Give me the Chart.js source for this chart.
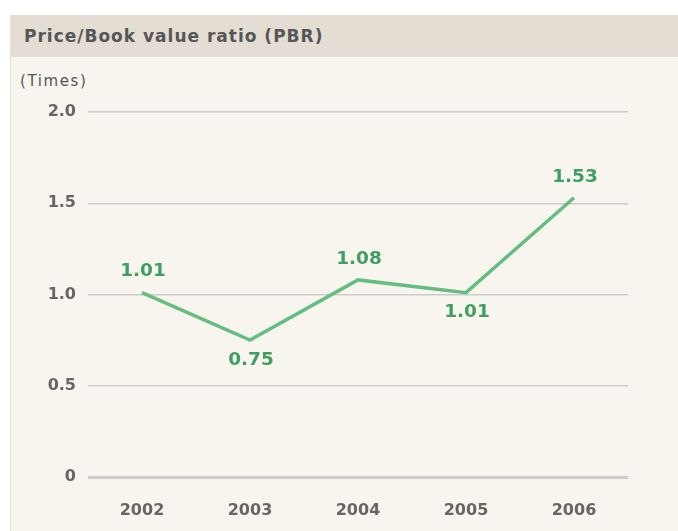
<!DOCTYPE html>
<html>
<head>
<meta charset="utf-8">
<script src="https://cdn.jsdelivr.net/npm/chart.js@4/dist/chart.umd.min.js"></script>
<style>
  html, body { margin: 0; padding: 0; background: #ffffff; }
  body { width: 678px; height: 531px; position: relative; overflow: hidden; font-family: "DejaVu Sans", sans-serif; }
  .panel { position: absolute; left: 10px; top: 15px; width: 668px; height: 516px; background: #f8f5ef; border-left: 1px solid #e6e0d6; }
  .header { height: 42px; background: #e3ddd3; color: #565656; font-weight: bold; font-size: 17px; letter-spacing: 1px; line-height: 43px; padding-left: 13px; }
  .unit { position: absolute; left: 20px; top: 72px; font-size: 15px; color: #555; letter-spacing: 1.6px; }
  .chart-box { position: absolute; left: 10px; top: 57px; width: 668px; height: 474px; }
</style>
</head>
<body>
<div class="panel"><div class="header">Price/Book value ratio (PBR)</div></div>
<div class="unit">(Times)</div>
<div class="chart-box"><canvas id="pbr" width="668" height="474"></canvas></div>
<script>
const years = ["2002", "2003", "2004", "2005", "2006"];
const pbrValues = [1.01, 0.75, 1.08, 1.01, 1.53];
const yTicks = [0, 0.5, 1.0, 1.5, 2.0];
const labelSide = ["top", "bottom", "top", "bottom", "top"];

const lineGreen = "#65bd82";
const textGreen = "#3f9f62";

// draws the value next to each point, above or below
const valueLabels = {
  id: "valueLabels",
  afterDatasetsDraw(chart) {
    const { ctx } = chart;
    const meta = chart.getDatasetMeta(0);
    ctx.save();
    ctx.font = "bold 18.5px 'DejaVu Sans'";
    ctx.fillStyle = textGreen;
    ctx.textAlign = "center";
    ctx.textBaseline = "middle";
    meta.data.forEach((pt, i) => {
      const dy = labelSide[i] === "top" ? -21 : 20;
      ctx.fillText(pbrValues[i].toFixed(2), pt.x + 1, pt.y + dy);
    });
    ctx.restore();
  },
};

new Chart(document.getElementById("pbr"), {
  type: "line",
  data: {
    labels: years,
    datasets: [{
      data: pbrValues,
      borderColor: lineGreen,
      borderWidth: 3.5,
      pointRadius: 0,
      tension: 0,
      fill: false,
    }],
  },
  options: {
    responsive: false,
    animation: false,
    events: [],
    layout: { padding: { top: 55, right: 50, left: 0, bottom: 0 } },
    plugins: { legend: { display: false }, tooltip: { enabled: false } },
    scales: {
      x: {
        offset: true,
        grid: { display: false },
        border: { display: false },
        ticks: { color: "#666", padding: 16, font: { family: "DejaVu Sans", size: 16, weight: "bold" } },
        afterFit(scale) { scale.height = 54; },
      },
      y: {
        min: 0,
        max: 2,
        afterBuildTicks(scale) { scale.ticks = yTicks.map((v) => ({ value: v })); },
        grid: {
          drawTicks: false,
          color: "#cfcccb",
          lineWidth: (c) => (c.tick && c.tick.value === 0 ? 3 : 1.5),
        },
        border: { display: false },
        ticks: {
          autoSkip: false,
          color: "#666",
          padding: 12,
          font: { family: "DejaVu Sans", size: 16, weight: "bold" },
          callback: (v) => (v === 0 ? "0" : v.toFixed(1)),
        },
        afterFit(scale) { scale.width = 78; },
      },
    },
  },
  plugins: [valueLabels],
});
</script>
</body>
</html>
